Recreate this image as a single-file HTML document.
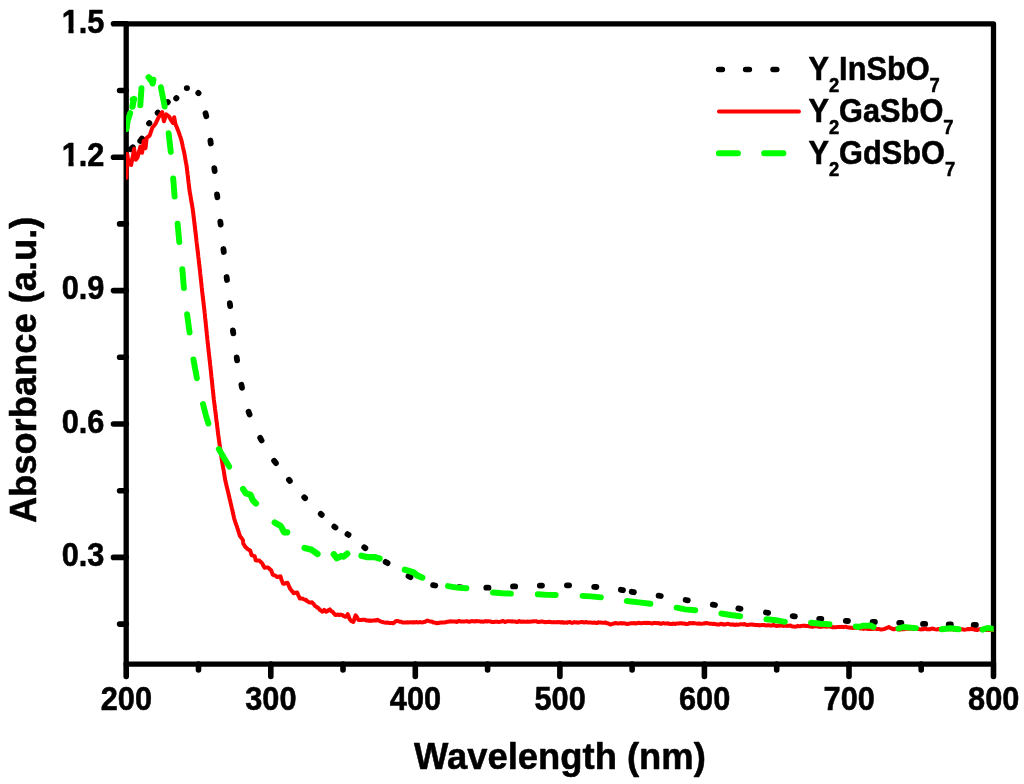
<!DOCTYPE html>
<html><head><meta charset="utf-8"><title>Absorbance</title>
<style>
html,body{margin:0;padding:0;background:#fff;}
body{width:1024px;height:784px;overflow:hidden;font-family:"Liberation Sans",sans-serif;}
svg{display:block;will-change:transform;}
text{font-family:"Liberation Sans",sans-serif;font-weight:bold;fill:#000;stroke:#000;stroke-width:0.55px;stroke-linejoin:round;}
</style></head><body>
<svg width="1024" height="784" viewBox="0 0 1024 784">
<rect width="1024" height="784" fill="#fff"/>

<g fill="none" stroke="#000" stroke-width="5.3" stroke-linecap="round" stroke-linejoin="round">
<rect x="126.2" y="23.8" width="867.3" height="640.3"/>
<path stroke-width="5.6" d="M126.2 23.8H113.5M126.2 157.2H113.5M126.2 290.6H113.5M126.2 424.0H113.5M126.2 557.4H113.5M126.2 90.5H119.6M126.2 223.9H119.6M126.2 357.3H119.6M126.2 490.7H119.6M126.2 624.1H119.6M126.2 664.1V676.5M270.8 664.1V676.5M415.3 664.1V676.5M559.9 664.1V676.5M704.4 664.1V676.5M849.0 664.1V676.5M993.5 664.1V676.5M198.5 664.1V670.0M343.0 664.1V670.0M487.6 664.1V670.0M632.1 664.1V670.0M776.7 664.1V670.0M921.2 664.1V670.0"/>
</g>
<clipPath id="cp"><rect x="126.0" y="0" width="867.7" height="784"/></clipPath><g clip-path="url(#cp)">
<path fill="none" stroke="#000" stroke-width="5.9" stroke-linecap="round" d="M149.1 123.4L149.3 123.2M157.7 112.9L157.9 112.7M167.6 102.3L167.8 102.1M176.2 98.4L176.4 98.2M186.8 88.1L187.0 88.1M198.3 93.0L198.5 93.2M289.0 479.9L289.8 480.9M304.3 497.3L305.1 498.1M320.8 514.0L321.7 514.8M334.4 526.7L335.4 527.5M347.5 534.2L348.5 534.8M364.3 547.3L365.3 548.1"/>
<path fill="none" stroke="#000" stroke-width="5.8" stroke-linecap="round" d="M130.6 149.3L132.8 147.3M140.2 140.9L142.0 138.5M205.5 113.2L206.3 116.2M210.4 140.5L210.8 143.5M214.3 168.1L214.7 171.1M217.0 194.3L217.4 197.3M220.3 221.6L220.7 224.6M223.4 249.0L223.8 252.0M226.6 277.0L227.0 280.0M229.8 303.2L230.2 306.2M232.9 330.4L233.3 333.4M236.7 357.4L237.1 360.4M241.4 384.8L242.0 387.8M248.6 411.7L249.6 414.5M260.2 437.9L261.6 440.5M274.1 460.7L275.9 463.1M385.6 561.9L387.6 563.1M408.5 576.1L410.5 577.1M433.1 585.1L435.3 585.5M458.9 587.2L461.1 587.4M486.3 587.7L488.5 587.7M513.0 586.4L515.2 586.4M539.8 585.6L542.0 585.6M566.9 585.3L569.1 585.3M594.2 586.8L596.4 587.0M620.8 589.8L623.0 590.2M631.7 591.8L633.9 592.2M658.6 595.6L660.8 596.0M685.6 600.0L687.8 600.4M712.8 604.6L715.0 605.0M738.3 608.4L740.5 608.8M765.9 612.5L768.1 612.9M792.6 616.1L794.9 616.4M819.2 618.8L821.4 619.0M845.8 620.8L848.0 621.0M872.6 622.0L874.9 622.0M899.2 622.8L901.4 622.8M923.0 623.9L925.2 623.9M948.7 624.4L950.9 624.4M973.7 625.0L975.9 625.0"/>
<polyline fill="none" stroke="#ff0000" stroke-width="4.0" stroke-linejoin="round" stroke-linecap="round" points="126.4,177.8 126.4,176.6 126.5,175.4 126.5,174.2 126.5,173.0 126.6,171.8 126.6,170.6 126.6,169.4 126.7,168.2 126.7,167.0 126.8,165.7 126.8,164.4 126.9,163.1 126.9,161.8 127.0,160.5 127.0,159.2 127.0,157.9 127.1,156.6 127.2,155.3 127.2,154.0 127.4,155.3 127.6,156.6 127.8,157.9 128.1,159.2 128.3,160.4 128.5,161.7 128.7,163.0 128.9,164.3 130.1,164.6 131.2,164.9 131.4,163.7 131.6,162.4 131.9,161.2 132.1,159.9 132.3,158.7 132.5,157.5 132.8,156.2 133.0,155.0 133.2,153.8 133.4,152.5 133.7,151.3 133.9,150.0 134.1,148.8 134.3,150.0 134.5,151.2 134.7,152.4 134.9,153.6 135.0,154.9 135.2,156.1 135.4,157.3 135.6,158.5 135.8,159.7 136.7,158.6 137.5,157.4 137.8,156.2 138.1,155.0 138.5,153.8 138.8,152.6 139.1,151.3 139.4,150.1 139.8,148.9 140.1,147.7 140.4,146.5 140.7,147.8 141.1,149.0 141.4,150.3 141.8,151.5 142.1,152.8 142.3,151.6 142.4,150.4 142.6,149.2 142.8,148.0 142.9,146.8 143.1,145.6 143.3,144.4 143.5,143.2 143.6,142.0 143.8,140.8 144.1,142.0 144.4,143.3 144.7,144.5 144.9,145.7 145.2,147.0 145.5,148.2 145.7,146.9 145.8,145.6 145.9,144.3 146.1,143.1 146.2,141.8 146.4,140.5 146.5,139.2 146.7,137.9 147.7,137.1 148.6,136.4 149.6,135.6 150.0,134.5 150.4,133.3 150.8,132.2 151.2,131.0 151.6,129.9 152.0,128.7 152.4,127.6 153.1,126.7 153.9,125.8 154.6,125.0 155.3,124.1 155.9,122.9 156.4,121.8 157.0,120.7 157.6,119.5 158.1,118.3 158.7,117.2 159.4,116.2 160.1,115.2 160.8,114.1 161.5,113.1 162.2,112.1 162.4,113.4 162.7,114.7 162.9,116.0 163.2,117.3 163.4,118.6 163.7,119.9 163.9,121.2 164.3,120.1 164.7,118.9 165.1,117.8 165.4,116.7 165.8,115.5 166.2,114.4 167.2,115.1 168.1,115.9 169.1,116.6 169.7,117.6 170.2,118.7 170.8,119.7 171.4,120.7 172.2,121.8 173.1,123.0 173.3,121.8 173.5,120.7 173.8,119.5 174.0,118.4 174.2,117.2 174.4,118.3 174.6,119.5 174.8,120.7 175.0,121.8 175.2,122.9 175.4,124.1 175.9,125.2 176.4,126.4 176.9,127.5 177.3,128.7 177.8,129.8 178.3,131.0 178.7,132.1 179.1,133.3 179.5,134.4 179.9,135.6 180.3,136.7 180.7,137.9 181.1,139.0 181.4,140.3 181.7,141.5 182.0,142.8 182.3,144.1 182.6,145.3 182.8,146.6 183.1,147.9 183.4,149.2 183.7,150.4 184.0,151.7 184.2,152.9 184.4,154.1 184.7,155.3 184.9,156.5 185.1,157.7 185.3,158.8 185.5,160.0 185.7,161.2 185.9,162.4 186.2,163.6 186.4,164.8 186.6,166.0 186.7,167.2 186.9,168.4 187.0,169.6 187.2,170.9 187.3,172.1 187.5,173.3 187.6,174.5 187.8,175.7 187.9,176.9 188.1,178.2 188.2,179.4 188.3,180.6 188.5,181.8 188.6,183.0 188.8,184.2 188.9,185.4 189.1,186.7 189.2,187.9 189.4,189.1 189.5,190.3 189.7,191.6 189.9,192.8 190.1,194.1 190.4,195.3 190.6,196.6 190.8,197.8 191.0,199.1 191.2,200.3 191.4,201.6 191.6,202.8 191.8,204.1 192.1,205.3 192.3,206.6 192.5,207.8 192.7,209.1 192.9,210.3 193.0,211.6 193.2,212.8 193.3,214.1 193.5,215.3 193.6,216.6 193.8,217.8 193.9,219.1 194.1,220.3 194.2,221.6 194.4,222.8 194.5,224.1 194.7,225.3 194.8,226.6 195.0,227.8 195.1,229.1 195.3,230.3 195.4,231.6 195.6,232.9 195.7,234.1 195.9,235.4 196.0,236.7 196.2,237.9 196.3,239.2 196.4,240.5 196.6,241.8 196.7,243.0 196.9,244.3 197.0,245.6 197.2,246.8 197.3,248.1 197.5,249.4 197.6,250.6 197.8,251.9 197.9,253.2 198.1,254.4 198.2,255.7 198.3,257.0 198.5,258.2 198.7,259.5 198.8,260.8 198.9,262.1 199.1,263.3 199.2,264.6 199.4,265.9 199.5,267.1 199.7,268.4 199.8,269.7 200.0,270.9 200.1,272.2 200.2,273.5 200.4,274.8 200.5,276.0 200.6,277.3 200.8,278.6 200.9,279.8 201.1,281.1 201.2,282.4 201.3,283.6 201.5,284.9 201.6,286.2 201.7,287.5 201.9,288.7 202.0,290.0 202.1,291.3 202.3,292.5 202.4,293.8 202.6,295.0 202.7,296.3 202.9,297.5 203.0,298.8 203.2,300.0 203.3,301.3 203.5,302.5 203.6,303.8 203.8,305.0 203.9,306.3 204.1,307.5 204.2,308.8 204.4,310.0 204.5,311.3 204.6,312.5 204.8,313.8 204.9,315.0 205.0,316.3 205.1,317.5 205.3,318.8 205.4,320.0 205.5,321.3 205.7,322.5 205.8,323.8 205.9,325.0 206.0,326.3 206.2,327.5 206.3,328.8 206.4,330.0 206.5,331.3 206.7,332.5 206.8,333.8 206.9,335.0 207.1,336.3 207.2,337.5 207.3,338.8 207.4,340.0 207.6,341.3 207.7,342.5 207.8,343.7 208.0,344.9 208.1,346.2 208.2,347.4 208.4,348.6 208.5,349.8 208.6,351.1 208.8,352.3 208.9,353.5 209.0,354.7 209.2,355.9 209.3,357.2 209.5,358.4 209.6,359.6 209.7,360.8 209.9,362.0 210.0,363.3 210.1,364.5 210.3,365.7 210.4,366.9 210.5,368.2 210.7,369.4 210.8,370.6 210.9,371.8 211.1,373.1 211.2,374.3 211.3,375.5 211.4,376.7 211.6,378.0 211.7,379.2 211.8,380.4 212.0,381.6 212.1,382.9 212.2,384.1 212.4,385.3 212.5,386.5 212.6,387.8 212.7,389.0 212.9,390.2 213.0,391.4 213.1,392.6 213.3,393.9 213.4,395.1 213.5,396.3 213.6,397.6 213.8,398.8 213.9,400.0 214.1,401.3 214.2,402.6 214.4,403.9 214.6,405.1 214.7,406.4 214.9,407.7 215.0,409.0 215.2,410.3 215.4,411.6 215.5,412.8 215.7,414.1 215.8,415.3 216.0,416.6 216.1,417.8 216.3,419.1 216.4,420.3 216.6,421.6 216.8,422.8 216.9,424.1 217.1,425.3 217.2,426.6 217.4,427.8 217.5,429.1 217.7,430.3 217.8,431.6 218.0,432.8 218.1,434.1 218.3,435.3 218.5,436.5 218.6,437.7 218.8,438.9 219.0,440.2 219.2,441.4 219.3,442.6 219.5,443.8 219.7,445.0 219.9,446.2 220.0,447.5 220.2,448.7 220.4,449.9 220.5,451.1 220.7,452.3 220.9,453.6 221.1,454.8 221.2,456.0 221.4,457.2 221.6,458.4 221.8,459.7 222.0,460.9 222.2,462.1 222.4,463.4 222.6,464.6 222.8,465.8 223.0,467.1 223.2,468.3 223.5,469.5 223.7,470.7 223.9,472.0 224.1,473.2 224.3,474.4 224.5,475.7 224.7,476.9 224.9,478.1 225.1,479.4 225.3,480.6 225.6,481.8 225.9,483.0 226.2,484.1 226.4,485.3 226.7,486.5 227.0,487.6 227.3,488.8 227.6,490.0 227.9,491.2 228.2,492.4 228.4,493.5 228.7,494.7 229.0,495.9 229.3,497.1 229.5,498.2 229.8,499.4 230.1,500.6 230.4,501.8 230.6,502.9 230.9,504.1 231.2,505.3 231.5,506.5 231.7,507.7 232.0,508.9 232.3,510.1 232.6,511.3 232.8,512.6 233.1,513.8 233.4,515.0 233.7,516.2 233.9,517.4 234.2,518.6 234.6,519.8 235.0,521.0 235.4,522.3 235.8,523.5 236.2,524.7 236.7,525.9 237.1,527.1 237.5,528.4 237.9,529.6 238.3,530.8 238.7,532.1 239.1,533.6 239.5,534.6 239.9,535.9 240.7,537.0 241.4,537.8 242.2,539.0 242.9,540.1 243.1,541.5 243.2,542.5 243.4,544.0 244.2,544.9 244.9,546.3 245.7,547.3 246.5,547.9 247.7,549.2 248.9,549.8 250.1,550.3 250.5,551.5 250.8,552.5 251.2,553.7 251.6,555.3 252.6,555.4 253.7,555.8 254.7,556.1 255.0,557.4 255.4,559.0 255.7,560.4 256.9,560.6 258.0,560.4 259.2,560.5 260.0,561.2 260.8,562.1 261.6,562.8 262.4,563.5 262.9,564.9 263.5,565.9 264.1,566.9 264.6,567.8 265.8,567.6 266.9,567.5 268.1,567.6 269.1,568.3 270.2,569.6 271.2,570.2 271.7,571.9 272.2,573.0 272.7,574.7 273.9,575.2 275.0,575.4 276.1,576.1 277.3,577.1 278.3,576.7 279.4,576.9 280.4,576.3 280.8,577.3 281.2,578.9 281.6,580.2 282.1,581.1 282.5,582.2 282.9,583.5 284.0,583.7 285.2,583.5 286.4,582.9 287.5,582.8 288.0,583.9 288.5,585.0 289.1,586.6 289.6,587.4 290.1,588.7 290.8,589.6 291.5,590.3 292.2,591.5 292.9,592.1 293.6,593.3 294.8,592.8 296.0,592.8 297.2,592.5 297.7,593.7 298.2,595.2 298.8,596.2 299.3,597.1 299.8,598.5 301.3,598.4 302.8,598.8 303.8,599.4 304.9,599.7 305.9,599.7 306.9,601.0 307.9,601.4 308.9,602.3 310.4,602.6 312.0,602.3 312.8,603.2 313.6,603.9 314.3,604.9 315.1,606.0 316.1,606.5 317.1,607.4 318.1,607.9 319.1,608.9 320.1,610.1 321.2,610.7 322.2,611.6 323.2,611.1 324.2,609.9 325.2,610.6 326.3,611.8 327.5,611.1 328.7,610.1 329.9,609.4 330.8,610.5 331.6,611.4 332.5,611.7 333.4,612.9 334.1,613.6 334.8,614.3 335.5,615.0 336.7,614.7 337.9,614.6 339.2,615.1 340.4,614.6 341.6,614.8 342.6,615.1 343.6,616.0 344.5,616.4 345.5,616.8 346.3,615.9 347.0,615.4 347.8,614.2 348.3,615.4 348.8,616.7 349.2,618.0 349.7,619.0 350.2,619.9 351.2,621.0 352.3,621.4 353.3,622.0 353.7,621.0 354.1,619.9 354.5,618.5 354.8,617.4 355.2,616.4 355.6,615.3 356.2,616.0 356.9,617.1 357.5,618.4 358.1,619.3 358.8,620.1 360.0,620.1 361.2,620.1 362.5,619.8 363.8,619.7 365.0,619.7 366.2,620.4 367.5,620.4 368.8,620.8 370.0,620.4 371.2,620.9 372.5,620.6 373.8,620.6 375.0,620.2 376.2,620.5 377.5,619.7 378.8,620.5 380.0,621.1 381.2,621.6 382.5,622.0 383.8,622.4 384.9,622.6 386.1,622.7 387.3,622.5 388.4,622.8 389.6,623.0 390.8,623.1 391.9,623.0 393.1,623.3 394.2,622.6 395.2,621.6 396.2,620.9 397.5,621.0 398.8,621.4 400.0,621.8 401.2,621.7 402.5,622.4 403.8,622.6 405.0,622.5 406.2,622.4 407.5,622.2 408.8,622.4 410.0,622.3 411.2,622.3 412.5,622.5 413.8,622.1 415.0,622.5 416.3,622.0 417.6,622.4 418.9,622.3 420.2,622.1 421.5,622.4 422.8,622.3 424.0,622.0 425.1,621.8 426.3,621.0 427.5,620.5 428.7,621.0 429.9,621.5 431.0,621.5 432.2,621.8 433.4,622.5 434.5,622.6 435.7,622.8 436.9,623.3 438.1,622.8 439.4,622.9 440.6,622.5 441.9,622.5 443.1,622.5 444.4,622.4 445.6,622.3 446.9,621.8 448.1,621.8 449.4,621.5 450.7,621.3 452.0,621.4 453.2,621.6 454.4,621.5 455.6,621.6 456.8,622.0 458.0,621.3 459.2,621.0 460.4,621.4 461.6,621.5 462.8,621.4 464.0,621.4 465.2,621.4 466.4,621.2 467.6,621.3 468.8,621.8 470.0,621.7 471.2,621.2 472.4,621.1 473.6,621.3 474.8,621.6 476.0,620.9 477.2,621.3 478.4,621.3 479.6,621.3 480.8,621.7 482.0,621.4 483.2,621.7 484.4,621.6 485.6,621.0 486.8,621.5 488.0,621.2 489.2,621.3 490.4,621.4 491.6,621.9 492.8,622.0 494.0,621.9 495.2,621.8 496.4,621.8 497.6,621.8 498.8,621.9 500.0,621.8 501.2,621.6 502.4,621.0 503.6,621.3 504.8,621.9 506.0,621.8 507.2,621.2 508.4,621.2 509.6,621.2 510.8,621.4 512.0,621.3 513.2,621.4 514.4,621.6 515.6,621.6 516.8,622.1 518.0,621.8 519.2,621.1 520.4,621.8 521.6,621.8 522.8,621.5 524.0,621.7 525.2,621.7 526.4,621.7 527.6,621.5 528.8,621.7 530.0,621.7 531.2,621.4 532.4,621.5 533.6,621.2 534.8,621.4 536.0,621.2 537.2,621.7 538.4,622.0 539.6,621.7 540.8,621.7 542.0,621.4 543.2,621.8 544.4,622.0 545.6,622.2 546.8,621.9 548.0,622.0 549.2,621.7 550.4,622.0 551.6,622.3 552.8,622.2 554.0,622.1 555.2,622.3 556.4,622.2 557.6,622.1 558.8,622.2 560.0,622.1 561.2,622.5 562.4,622.1 563.6,622.7 564.8,622.5 566.0,622.5 567.2,622.7 568.4,622.1 569.6,621.9 570.8,622.5 572.0,622.9 573.2,622.6 574.4,622.1 575.6,622.4 576.8,622.3 578.0,622.7 579.2,622.4 580.4,622.2 581.6,622.1 582.8,622.1 584.0,622.5 585.2,622.3 586.4,622.0 587.6,622.5 588.8,622.6 590.0,622.5 591.2,622.6 592.4,622.8 593.6,622.8 594.8,622.5 596.0,623.0 597.2,622.9 598.4,622.3 599.6,622.6 600.8,622.5 602.0,622.7 603.2,622.7 604.4,622.8 605.6,622.5 606.8,623.3 608.0,623.3 609.2,623.8 610.4,624.6 611.6,624.1 612.8,623.7 614.0,623.6 615.2,622.9 616.4,623.3 617.6,623.4 618.8,623.4 620.0,623.2 621.2,623.1 622.4,623.5 623.6,623.2 624.8,623.4 626.0,623.8 627.2,624.0 628.4,623.7 629.6,623.5 630.8,623.2 632.0,623.2 633.2,623.4 634.4,623.0 635.6,623.5 636.8,623.2 638.0,623.0 639.2,622.8 640.4,623.2 641.6,623.2 642.8,623.1 644.0,623.1 645.2,622.8 646.4,623.2 647.6,622.8 648.8,623.0 650.0,623.1 651.2,623.4 652.4,623.4 653.6,623.0 654.8,623.0 656.0,623.1 657.2,623.2 658.4,623.1 659.6,623.3 660.8,623.8 662.0,623.5 663.2,623.1 664.4,623.4 665.6,623.4 666.8,623.6 668.0,623.3 669.2,623.8 670.4,624.0 671.6,624.0 672.8,623.6 674.0,623.7 675.2,624.1 676.4,623.4 677.6,623.6 678.8,623.6 680.0,623.2 681.2,623.2 682.4,623.5 683.6,623.5 684.8,623.6 686.0,624.1 687.2,623.9 688.4,623.8 689.6,623.0 690.8,623.2 692.0,623.4 693.2,623.0 694.4,623.2 695.6,623.4 696.8,623.6 698.0,623.7 699.2,623.4 700.4,623.7 701.6,623.9 702.8,623.6 704.0,623.6 705.2,623.2 706.4,623.0 707.6,623.3 708.8,623.4 710.0,623.8 711.2,623.7 712.4,623.9 713.6,623.8 714.8,624.0 716.0,624.2 717.2,624.5 718.4,624.5 719.6,624.4 720.8,623.8 722.0,623.9 723.2,624.5 724.4,624.3 725.6,624.5 726.8,624.0 728.0,623.8 729.2,624.2 730.4,624.6 731.6,624.7 732.8,624.3 734.0,624.8 735.2,624.9 736.4,624.5 737.6,624.7 738.8,624.7 740.0,624.3 741.2,624.3 742.4,624.3 743.6,624.4 744.8,624.0 746.0,624.9 747.2,625.1 748.4,624.8 749.6,624.7 750.8,624.6 752.0,624.5 753.2,624.8 754.4,624.8 755.6,625.1 756.8,625.1 758.0,624.9 759.2,625.4 760.4,625.2 761.6,625.1 762.8,625.1 764.0,624.9 765.2,625.3 766.4,625.4 767.6,625.3 768.8,625.3 770.0,625.4 771.2,625.4 772.4,625.4 773.6,624.9 774.8,625.5 776.0,626.0 777.2,625.6 778.4,625.7 779.6,625.7 780.8,625.5 782.0,625.4 783.2,625.9 784.4,625.8 785.6,625.6 786.8,625.9 788.0,625.8 789.2,625.7 790.4,625.6 791.6,626.3 792.8,626.4 794.0,626.6 795.2,626.7 796.4,626.6 797.6,625.8 798.8,626.2 800.0,626.3 801.2,625.9 802.4,625.8 803.6,625.6 804.8,625.8 806.0,626.0 807.2,626.0 808.4,626.0 809.6,626.4 810.8,626.5 812.0,626.7 813.2,626.7 814.4,626.2 815.6,626.4 816.8,626.2 818.0,626.7 819.2,626.7 820.4,626.9 821.6,626.8 822.8,626.2 824.0,626.6 825.2,626.4 826.4,626.7 827.6,626.4 828.8,626.3 830.0,626.7 831.2,626.6 832.4,627.3 833.6,627.3 834.8,627.3 836.0,627.3 837.2,627.1 838.4,627.0 839.6,627.1 840.8,626.9 842.0,626.8 843.2,627.2 844.4,626.9 845.6,626.7 846.8,627.2 848.0,627.4 849.2,627.4 850.4,627.7 851.6,627.7 852.8,628.1 854.0,627.9 855.2,627.3 856.4,627.9 857.6,627.9 858.8,627.7 860.0,628.5 861.2,628.4 862.4,628.6 863.6,628.9 864.8,628.4 866.0,628.6 867.2,628.9 868.4,628.9 869.6,628.8 870.8,629.1 872.0,629.1 873.2,628.8 874.4,628.3 875.6,628.8 876.8,628.9 878.0,628.9 879.2,629.0 880.4,629.5 881.6,629.4 882.8,629.3 884.0,629.1 885.2,628.6 886.4,628.1 887.6,627.7 888.8,627.1 890.0,627.8 891.2,628.2 892.4,628.9 893.6,629.3 894.8,629.0 896.0,628.5 897.2,628.7 898.4,629.5 899.6,629.5 900.8,629.4 902.0,629.2 903.2,629.2 904.4,629.2 905.6,628.8 906.8,628.8 908.0,628.8 909.2,628.8 910.4,628.5 911.6,628.5 912.8,629.0 914.0,628.9 915.2,628.9 916.4,628.6 917.6,628.8 918.8,629.1 920.0,629.3 921.2,629.4 922.4,629.1 923.6,629.2 924.8,628.7 926.0,628.8 927.2,629.3 928.4,629.2 929.6,629.4 930.8,628.9 932.0,628.6 933.2,628.7 934.4,629.1 935.6,629.4 936.8,629.6 938.0,629.1 939.2,629.1 940.4,629.5 941.6,629.4 942.8,629.3 944.0,628.9 945.2,628.9 946.4,628.7 947.6,629.3 948.8,629.3 950.0,629.3 951.2,629.3 952.4,629.1 953.6,629.5 954.8,629.7 956.0,629.9 957.2,629.3 958.4,629.1 959.6,628.9 960.8,629.4 962.0,629.2 963.2,629.5 964.4,629.7 965.6,629.6 966.8,629.4 968.0,629.0 969.2,629.3 970.4,628.8 971.6,629.0 972.8,629.3 974.0,629.3 975.2,629.8 976.4,630.0 977.6,629.9 978.8,629.4 980.0,629.1 981.2,629.5 982.4,630.1 983.6,629.9 984.8,629.9 986.0,630.1 987.2,629.9 988.4,630.0 989.6,629.9 990.8,630.0 992.0,629.8 992.6,630.0"/>
<path fill="none" stroke="#00ff00" stroke-width="5.9" stroke-linecap="round" stroke-linejoin="round" d="M126.6 129.0L127.6 121.0L130.2 113.1M140.3 105.3L141.5 88.3M160.9 87.2L164.7 106.6M168.6 133.2L170.8 152.0M173.2 178.5L174.6 196.6M177.6 223.8L179.3 242.0M182.3 269.1L183.9 288.0M187.1 314.1L189.6 332.6M193.4 359.4L196.9 378.3M203.0 404.1L205.8 415.0L208.4 423.6M218.8 449.1L224.5 458.8L229.2 466.6M448.0 586.1L457.0 587.6L466.4 588.3M493.0 592.5L502.0 593.3L510.9 593.6M537.8 594.2L547.2 594.9L555.7 595.0M582.6 595.9L591.0 596.4L600.9 597.4M626.7 601.0L639.0 602.4L650.5 603.8M676.6 607.7L685.0 609.4L695.2 610.3M721.3 613.5L730.5 615.0L740.2 616.2M766.4 619.2L776.0 620.2L784.9 621.8M811.0 622.7L820.5 623.8L829.5 624.3M855.7 626.4L858.5 627.0L862.5 625.8L867.5 625.8L870.5 625.5L873.5 627.0M898.4 628.5L903.5 627.0L915.9 628.1M941.7 629.3L950.3 628.2L958.7 629.3M982.5 629.6L987.5 628.0L993.4 628.8"/>
<path fill="none" stroke="#00ff00" stroke-width="6.3" stroke-linecap="round" stroke-linejoin="round" d="M132.5 106.7L133.1 102.5L134.1 99.0L132.9 99.6M148.7 77.3L150.6 80.0L153.3 79.8L152.6 83.3M243.1 489.1L245.8 493.3L250.5 494.8L252.8 500.3L255.9 503.4M274.7 522.5L280.9 526.1L284.1 532.3L287.2 532.3M304.6 548.0L311.3 549.6L317.5 553.9M333.8 554.3L336.9 558.2L341.3 556.2L343.6 556.6L347.2 553.7M361.5 555.8L367.5 557.2L375.0 557.2L379.6 558.6M404.9 569.8L413.4 572.3L417.3 575.5L422.3 577.6"/>
</g>
<text transform="translate(104.4,32.5) scale(0.932,1)" font-size="33.0" text-anchor="end">1.5</text>
<text transform="translate(104.4,165.9) scale(0.932,1)" font-size="33.0" text-anchor="end">1.2</text>
<text transform="translate(104.4,299.3) scale(0.932,1)" font-size="33.0" text-anchor="end">0.9</text>
<text transform="translate(104.4,432.7) scale(0.932,1)" font-size="33.0" text-anchor="end">0.6</text>
<text transform="translate(104.4,566.1) scale(0.932,1)" font-size="33.0" text-anchor="end">0.3</text>
<text transform="translate(126.4,710.2) scale(0.932,1)" font-size="33.0" text-anchor="middle">200</text>
<text transform="translate(270.9,710.2) scale(0.932,1)" font-size="33.0" text-anchor="middle">300</text>
<text transform="translate(415.5,710.2) scale(0.932,1)" font-size="33.0" text-anchor="middle">400</text>
<text transform="translate(560.1,710.2) scale(0.932,1)" font-size="33.0" text-anchor="middle">500</text>
<text transform="translate(704.6,710.2) scale(0.932,1)" font-size="33.0" text-anchor="middle">600</text>
<text transform="translate(849.2,710.2) scale(0.932,1)" font-size="33.0" text-anchor="middle">700</text>
<text transform="translate(993.7,710.2) scale(0.932,1)" font-size="33.0" text-anchor="middle">800</text>
<rect x="62" y="28" width="6.45" height="6" fill="#fff"/>
<rect x="73.6" y="28" width="6.4" height="6" fill="#fff"/>
<rect x="62" y="161" width="6.45" height="6" fill="#fff"/>
<rect x="73.6" y="161" width="6.4" height="6" fill="#fff"/>
<text transform="translate(559.9,769.2) scale(0.963,1)" font-size="37.8" text-anchor="middle">Wavelength (nm)</text>
<text transform="translate(36.2,369.9) rotate(-90) scale(0.960,1)" font-size="37.8" text-anchor="middle">Absorbance (a.u.)</text>
<path fill="none" stroke="#000" stroke-width="5.5" stroke-linecap="round" d="M718.6 69.4h3.8M745.6 69.4h3.8M773 69.4h3.8"/>
<path fill="none" stroke="#ff0000" stroke-width="3.8" stroke-linecap="round" d="M718.9 111.5H799"/>
<path fill="none" stroke="#00ff00" stroke-width="6" stroke-linecap="round" d="M718.9 153.3H737.9M764.2 153.3H783.4"/>
<text transform="translate(808.4,80.1) scale(0.932,1)" font-size="33.0" text-anchor="start">Y<tspan font-size="19.7" dy="11.4">2</tspan><tspan font-size="33.0" dy="-11.4">InSbO</tspan><tspan font-size="19.7" dy="11.4">7</tspan></text>
<text transform="translate(808.4,122.1) scale(0.932,1)" font-size="33.0" text-anchor="start">Y<tspan font-size="19.7" dy="11.4">2</tspan><tspan font-size="33.0" dy="-11.4">GaSbO</tspan><tspan font-size="19.7" dy="11.4">7</tspan></text>
<text transform="translate(808.4,164.1) scale(0.932,1)" font-size="33.0" text-anchor="start">Y<tspan font-size="19.7" dy="11.4">2</tspan><tspan font-size="33.0" dy="-11.4">GdSbO</tspan><tspan font-size="19.7" dy="11.4">7</tspan></text>
</svg></body></html>
